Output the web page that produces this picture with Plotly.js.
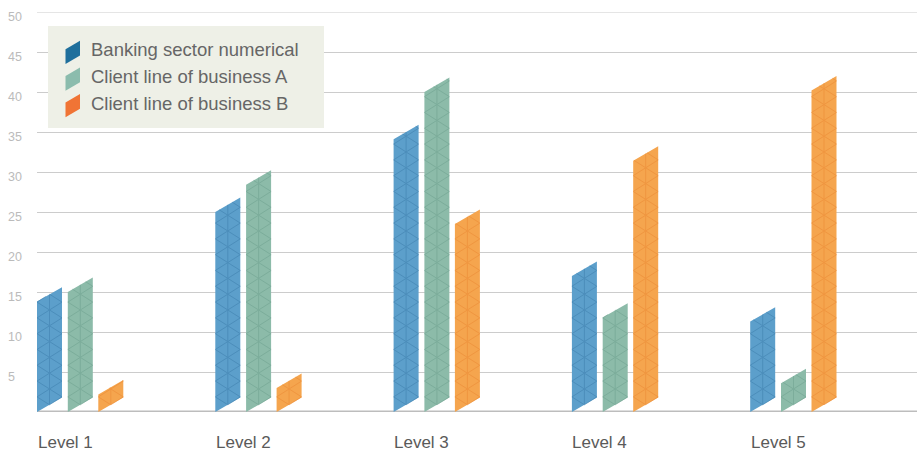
<!DOCTYPE html>
<html>
<head>
<meta charset="utf-8">
<script src="https://cdn.plot.ly/plotly-3.0.1.min.js"></script>
<style>
  html, body { margin: 0; padding: 0; background: #ffffff; }
  #chart { width: 917px; height: 452px; }
</style>
</head>
<body>
<div id="chart"></div>
<script>
// ---- data ----
const levels = ['Level 1', 'Level 2', 'Level 3', 'Level 4', 'Level 5'];
const seriesNames = ['Banking sector numerical', 'Client line of business A', 'Client line of business B'];
const bankingSector = [13.8, 25, 34.1, 17, 11.3];
const clientLineA = [15, 28.4, 40, 11.8, 3.6];
const clientLineB = [2.2, 3, 23.5, 31.4, 40.2];
const yTickValues = [5, 10, 15, 20, 25, 30, 35, 40, 45, 50];

// ---- styling ----
const FONT = 'Liberation Sans, Arial, sans-serif';
const barColors = ['#5c9fcb', '#8cbba9', '#f5a54e'];
const hatchColors = ['#3f80ae', '#6fa290', '#ec8a35'];
const swatchColors = ['#1f6f9c', '#8bbcad', '#f07435'];
const gridColor = '#cccccc';

// ---- geometry (pixels) ----
const W = 917, H = 452;
const PLOT = { l: 37, r: 0, t: 12, b: 40 };
const plotW = W - PLOT.l - PLOT.r;
const plotH = H - PLOT.t - PLOT.b;
const Y_MAX = 50;
const pxPerY = plotH / Y_MAX;
const GROUP_PX = 178.3;          // distance between level groups
const BAR_PX = 25;               // bar width
const OFFSET_PX = [0, 30.8, 61.3];
const SKEW_PX = BAR_PX * Math.tan(30 * Math.PI / 180); // rise of the slanted top/bottom
const HATCH_PX = 15.8;           // vertical period of the triangle hatch

const xMax = plotW / GROUP_PX;
const barW = BAR_PX / GROUP_PX;
const skewY = SKEW_PX / pxPerY;
const k = skewY / barW;               // slant of bar ends, data units
const hatchP = HATCH_PX / pxPerY;
const hatchSlope = hatchP / barW;

const seriesValues = [bankingSector, clientLineA, clientLineB];

function barPolygon(x0, v) {
  return {
    x: [x0, x0 + barW, x0 + barW, x0, x0],
    y: [0, skewY, v + skewY, v, 0]
  };
}

// triangle hatch clipped to a slanted bar
function barHatch(x0, v) {
  const xs = [], ys = [];
  const half = barW / 2;
  // centre line
  xs.push(x0 + half, x0 + half, null);
  ys.push(k * half, v + k * half, null);
  const jMax = Math.ceil(v / hatchP) + 3;
  [1, -1].forEach(sg => {
    for (let j = -3; j <= jMax; j++) {
      const A = k * half + j * hatchP - sg * hatchSlope * half;
      const B = sg * hatchSlope - k;
      let lo = 0, hi = barW;
      if (Math.abs(B) < 1e-9) {
        if (A < 0 || A > v) continue;
      } else {
        const u1 = -A / B, u2 = (v - A) / B;
        lo = Math.max(lo, Math.min(u1, u2));
        hi = Math.min(hi, Math.max(u1, u2));
      }
      if (hi - lo < 1e-6) continue;
      xs.push(x0 + lo, x0 + hi, null);
      ys.push(k * lo + A + B * lo, k * hi + A + B * hi, null);
    }
  });
  return { x: xs, y: ys };
}

const traces = [];
seriesValues.forEach((vals, s) => {
  const fx = [], fy = [], hx = [], hy = [];
  vals.forEach((v, i) => {
    const x0 = i + OFFSET_PX[s] / GROUP_PX;
    const p = barPolygon(x0, v);
    fx.push(...p.x, null); fy.push(...p.y, null);
    const h = barHatch(x0, v);
    hx.push(...h.x); hy.push(...h.y);
  });
  traces.push({
    type: 'scatter', mode: 'lines', name: seriesNames[s],
    x: fx, y: fy, fill: 'toself', fillcolor: barColors[s],
    line: { width: 0, color: barColors[s] },
    hoverinfo: 'skip', showlegend: false
  });
  traces.push({
    type: 'scatter', mode: 'lines', name: seriesNames[s] + ' hatch',
    x: hx, y: hy, line: { width: 1, color: hatchColors[s] },
    opacity: 0.55, hoverinfo: 'skip', showlegend: false
  });
});

// pixel -> paper helpers for the key box and labels
const paperX = px => (px - PLOT.l) / plotW;
const paperY = py => (PLOT.t + plotH - py) / plotH;

const shapes = [
  // top grid line at the edge of the range
  { type: 'line', xref: 'paper', yref: 'y', x0: 0, x1: 1, y0: Y_MAX, y1: Y_MAX,
    line: { color: gridColor, width: 1 }, layer: 'below' },
  // baseline
  { type: 'line', xref: 'paper', yref: 'y', x0: 0, x1: 1, y0: 0, y1: 0,
    line: { color: '#bdbdbd', width: 3 }, layer: 'below' },
  // key box
  { type: 'rect', xref: 'paper', yref: 'paper',
    x0: paperX(48), x1: paperX(324), y0: paperY(128), y1: paperY(26),
    fillcolor: '#eef0e7', line: { width: 0 }, layer: 'above' }
];
const annotations = [];
const keyRows = [50, 76.7, 103.3];
seriesNames.forEach((name, s) => {
  const ry = keyRows[s];
  const lx = 65.5, sw = 14.5, sk = 8.5;
  const pts = [[lx, ry + 14], [lx, ry - 0.7], [lx + sw, ry - 0.7 - sk], [lx + sw, ry + 14 - sk]];
  const path = 'M' + pts.map(p => paperX(p[0]) + ',' + paperY(p[1])).join('L') + 'Z';
  shapes.push({ type: 'path', xref: 'paper', yref: 'paper', path: path,
    fillcolor: swatchColors[s], line: { width: 0 }, layer: 'above' });
  annotations.push({ xref: 'paper', yref: 'paper', x: paperX(88.5), y: paperY(ry),
    xanchor: 'left', yanchor: 'middle', showarrow: false, text: name,
    font: { family: FONT, size: 18.5, color: '#666666' } });
});

// level labels, left-aligned with each group
levels.forEach((lab, i) => {
  annotations.push({ xref: 'x', yref: 'paper', x: i, y: paperY(443),
    xanchor: 'left', yanchor: 'middle', xshift: -1.5, showarrow: false, text: lab,
    font: { family: FONT, size: 17, color: '#5a5a5a' } });
});

// value labels on the left, sitting just under each grid line
yTickValues.forEach(v => {
  annotations.push({ xref: 'paper', yref: 'y', x: paperX(5.5), y: v,
    xanchor: 'left', yanchor: 'middle', yshift: -5, showarrow: false, text: String(v),
    font: { family: FONT, size: 12.5, color: '#bbbbbb' } });
});

const layout = {
  width: W, height: H,
  margin: PLOT,
  paper_bgcolor: '#ffffff', plot_bgcolor: '#ffffff',
  showlegend: false,
  font: { family: FONT },
  xaxis: {
    range: [0, xMax], showticklabels: false,
    showgrid: false, zeroline: false, showline: false, ticks: '', fixedrange: true
  },
  yaxis: {
    range: [0, Y_MAX], tickvals: yTickValues, showticklabels: false,
    showgrid: true, gridcolor: gridColor, gridwidth: 1,
    zeroline: false, showline: false, ticks: '', fixedrange: true
  },
  shapes: shapes,
  annotations: annotations
};

Plotly.newPlot('chart', traces, layout, { displayModeBar: false, staticPlot: true });
</script>
</body>
</html>
